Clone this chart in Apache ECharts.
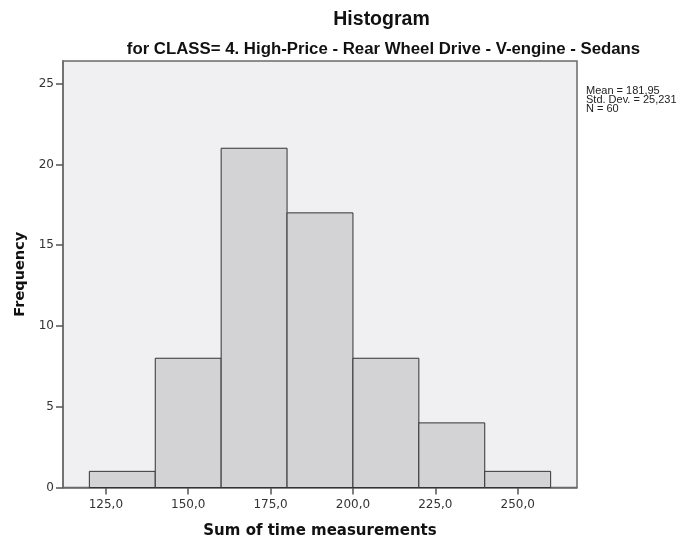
<!DOCTYPE html>
<html><head><meta charset="utf-8">
<script src="https://cdn.jsdelivr.net/npm/echarts@6/dist/echarts.min.js"></script>
<style>html,body{margin:0;padding:0;background:#fff}#c{width:698px;height:544px}</style>
</head><body><div id="c"></div>
<script>
const binStarts = [120, 140, 160, 180, 200, 220, 240];
const binEnds   = [140, 160, 180, 200, 220, 240, 260];
const counts    = [1, 8, 21, 17, 8, 4, 1];
const xTicks = [125, 150, 175, 200, 225, 250];
const yTicks = [0, 5, 10, 15, 20, 25];
const statsLines = ['Mean = 181,95', 'Std. Dev. = 25,231', 'N = 60'];

const data = binStarts.map((s, i) => [s, binEnds[i], counts[i]]);
const chart = echarts.init(document.getElementById('c'));
const ARIAL = 'Liberation Sans, Arial, sans-serif';
const DEJA = '"DejaVu Sans", Verdana, sans-serif';
chart.setOption({
  animation: false,
  backgroundColor: '#fff',
  title: [
    {text: 'Histogram', left: 376.5, top: 4.5, textAlign: 'center',
     textStyle: {fontFamily: ARIAL, fontSize: 19.5, fontWeight: 'bold', color: '#111'}},
    {text: 'for CLASS= 4. High-Price - Rear Wheel Drive - V-engine - Sedans', left: 378.5, top: 36, textAlign: 'center',
     textStyle: {fontFamily: ARIAL, fontSize: 16.8, fontWeight: 'bold', color: '#111'}},
    {text: statsLines.join('\n'), left: 586, top: 86.5, padding: 0,
     textStyle: {fontFamily: ARIAL, fontSize: 11, fontWeight: 'normal', color: '#222', lineHeight: 8.8}}
  ],
  grid: {left: 63, right: 121, top: 61, bottom: 55, show: true,
         backgroundColor: '#F0F0F2', borderColor: '#6a6a6a', borderWidth: 1.5},
  xAxis: {
    type: 'value', min: 112, max: 268,
    name: 'Sum of time measurements', nameLocation: 'middle', nameGap: 36.5,
    nameTextStyle: {fontFamily: DEJA, fontSize: 15, fontWeight: 'bold', color: '#111'},
    axisLine: {show: true, lineStyle: {color: '#6a6a6a', width: 1.5}},
    axisTick: {show: true, length: 7, customValues: xTicks, lineStyle: {color: '#555', width: 1.5}},
    axisLabel: {customValues: xTicks, fontFamily: DEJA, fontSize: 12, color: '#333', margin: 11,
                formatter: v => v.toFixed(1).replace('.', ',')},
    splitLine: {show: false}
  },
  yAxis: {
    type: 'value', min: 0, max: 26.4,
    name: 'Frequency', nameLocation: 'middle', nameGap: 34,
    nameTextStyle: {fontFamily: DEJA, fontSize: 14.5, fontWeight: 'bold', color: '#111'},
    axisLine: {show: true, lineStyle: {color: '#6a6a6a', width: 1.5}},
    axisTick: {show: true, length: 7, customValues: yTicks, lineStyle: {color: '#555', width: 1.5}},
    axisLabel: {customValues: yTicks, fontFamily: DEJA, fontSize: 12, color: '#333', margin: 9},
    splitLine: {show: false}
  },
  series: [{
    type: 'custom',
    data: data,
    renderItem: function (params, api) {
      const p0 = api.coord([api.value(0), api.value(2)]);
      const p1 = api.coord([api.value(1), 0]);
      return {
        type: 'rect',
        shape: {x: p0[0], y: p0[1], width: p1[0] - p0[0], height: p1[1] - p0[1]},
        style: {fill: '#D3D3D5', stroke: '#333', lineWidth: 1}
      };
    },
    encode: {x: [0, 1], y: 2}
  }]
});
</script></body></html>
